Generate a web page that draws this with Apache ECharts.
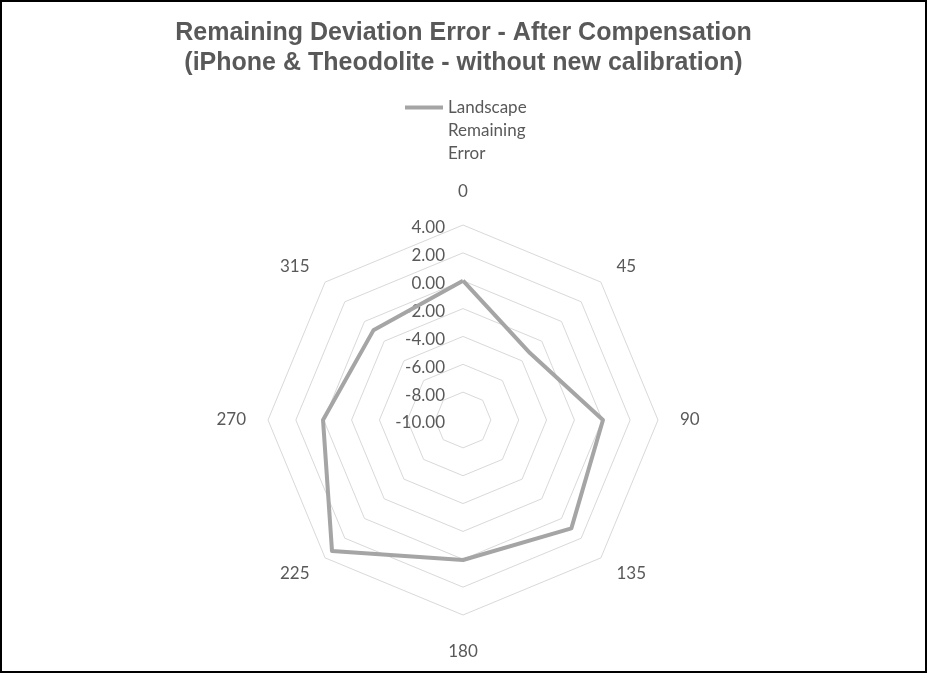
<!DOCTYPE html>
<html>
<head>
<meta charset="utf-8">
<script src="https://cdn.jsdelivr.net/npm/echarts@6/dist/echarts.min.js"></script>
<style>
html,body{margin:0;padding:0;background:#fff;}
#chart{width:927px;height:673px;}
</style>
</head>
<body>
<div id="chart"></div>
<script>
const titleLines = ['Remaining Deviation Error - After Compensation', '(iPhone & Theodolite - without new calibration)'];
const seriesName = 'Landscape Remaining Error';
const legendLines = ['Landscape', 'Remaining', 'Error'];
const categories = ['0', '45', '90', '135', '180', '225', '270', '315'];
const values = [0.0, -3.2, 0.05, 1.0, 0.05, 3.3, 0.05, -0.9];
const tickValues = [-10, -8, -6, -4, -2, 0, 2, 4];

// ECharts radar runs counterclockwise; Excel runs clockwise from the top.
const order = [0].concat(categories.map((c, i) => i).slice(1).reverse());
const nameGaps = { '0': 25, '180': 28 };

const GREY = '#595959';
const chart = echarts.init(document.getElementById('chart'));
const indicators = order.map((i, k) => ({
  name: categories[i],
  min: tickValues[0],
  max: tickValues[tickValues.length - 1],
  nameGap: nameGaps[categories[i]] != null ? nameGaps[categories[i]] : 22,
  axisLabel: { show: k === 0 }
}));

chart.setOption({
  backgroundColor: '#fff',
  animation: false,
  title: {
    text: titleLines.join('\n'),
    left: 'center',
    top: 13,
    textStyle: { fontFamily: 'Liberation Sans', fontWeight: 'bold', fontSize: 25, lineHeight: 30, color: GREY }
  },
  legend: {
    data: [seriesName],
    left: 400,
    top: 45,
    icon: 'path://M0,0 L38,0 L38,4 L0,4 Z',
    itemWidth: 38,
    itemHeight: 4,
    itemGap: 5,
    formatter: () => '\n\n' + legendLines.join('\n'),
    textStyle: { fontFamily: 'Lato', fontSize: 17, lineHeight: 23, color: GREY }
  },
  radar: {
    center: [463, 420],
    radius: 195,
    startAngle: 90,
    shape: 'polygon',
    splitNumber: tickValues.length - 1,
    indicator: indicators,
    nameGap: 22,
    axisName: { color: GREY, fontFamily: 'Lato', fontSize: 17 },
    axisLine: { show: false },
    axisTick: { show: false },
    axisLabel: {
      show: true,
      color: GREY,
      fontFamily: 'Lato',
      fontSize: 17,
      margin: 18,
      verticalAlign: 'top',
      lineHeight: 6,
      formatter: v => Number(v).toFixed(2)
    },
    splitLine: { lineStyle: { color: '#D9D9D9', width: 1 } },
    splitArea: { show: false }
  },
  series: [{
    type: 'radar',
    name: seriesName,
    symbol: 'none',
    lineStyle: { color: '#A5A5A5', width: 4 },
    itemStyle: { color: '#A5A5A5' },
    data: [{ name: seriesName, value: order.map(i => values[i]) }]
  }],
  graphic: [{
    type: 'rect',
    shape: { x: 1, y: 1, width: 925, height: 671 },
    style: { fill: 'none', stroke: '#000', lineWidth: 2 },
    silent: true
  }]
});
</script>
</body>
</html>
